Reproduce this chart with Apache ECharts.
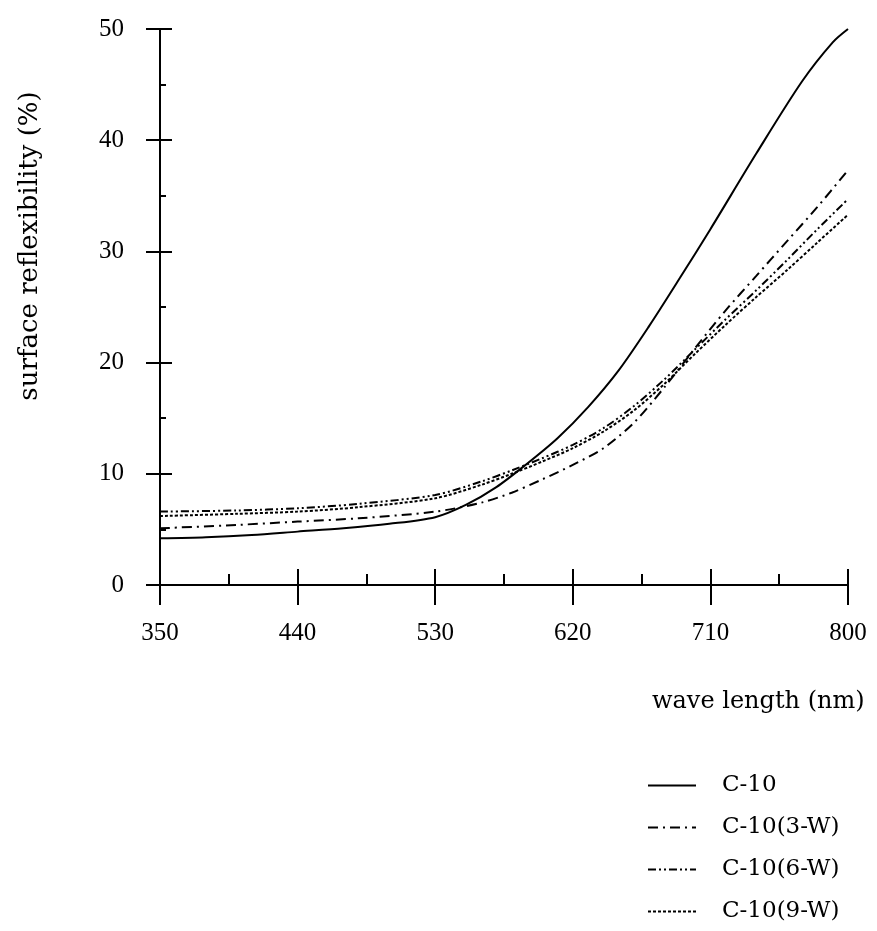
<!DOCTYPE html>
<html>
<head>
<meta charset="utf-8">
<script src="https://cdn.jsdelivr.net/npm/echarts@6/dist/echarts.min.js"></script>
<style>
  html, body { margin: 0; padding: 0; background: #fff; }
  #main { width: 877px; height: 931px; }
</style>
</head>
<body>
<div id="main"></div>
<script>
// wave length (nm) / reflexibility (%)
var waveC10 = [350, 380, 410, 440, 470, 500, 530, 550, 570, 590, 610, 630, 650, 670, 690, 710, 740, 770, 790, 800];
var reflC10 = [4.2, 4.3, 4.5, 4.8, 5.1, 5.5, 6.1, 7.2, 8.8, 10.9, 13.2, 16.0, 19.3, 23.3, 27.6, 32.0, 38.8, 45.3, 48.8, 50.0];

var waveW = [350, 400, 440, 480, 530, 560, 580, 600, 620, 640, 660, 680, 700, 720, 740, 760, 780, 800];
var refl3W = [5.1, 5.4, 5.7, 6.0, 6.6, 7.4, 8.3, 9.5, 10.8, 12.3, 14.6, 17.8, 21.3, 24.7, 27.8, 30.9, 34.0, 37.3];
var refl6W = [6.6, 6.7, 6.9, 7.3, 8.1, 9.3, 10.3, 11.4, 12.6, 14.1, 16.1, 18.5, 21.2, 23.9, 26.5, 29.2, 32.0, 34.7];
var refl9W = [6.2, 6.4, 6.6, 7.0, 7.8, 9.0, 10.0, 11.1, 12.3, 13.8, 15.7, 18.1, 20.8, 23.4, 25.9, 28.3, 30.8, 33.3];

var xTicks = [350, 440, 530, 620, 710, 800];
var seriesNames = ['C-10', 'C-10(3-W)', 'C-10(6-W)', 'C-10(9-W)'];

function pairs(xs, ys) {
    return xs.map(function (x, i) { return [x, ys[i]]; });
}

var myChart = echarts.init(document.getElementById('main'));

var serif = 'Liberation Serif';
var serif2 = 'DejaVu Serif';

function lineSeries(name, data, type) {
    return {
        name: name,
        type: 'line',
        xAxisIndex: 0,
        yAxisIndex: 0,
        data: data,
        smooth: 0.3,
        showSymbol: false,
        symbol: 'none',
        lineStyle: { color: '#000', width: 2, type: type },
        itemStyle: { color: '#000' }
    };
}

var option = {
    animation: false,
    backgroundColor: '#fff',
    grid: { left: 160, right: 29, top: 29, bottom: 346 },
    xAxis: [{
        type: 'value',
        min: 350, max: 800, interval: 90,
        axisLine: { lineStyle: { color: '#000', width: 2 } },
        axisTick: { inside: true, length: 16, lineStyle: { color: '#000', width: 2 } },
        minorTick: { show: true, splitNumber: 2, length: 11, lineStyle: { color: '#000', width: 2 } },
        splitLine: { show: false },
        axisLabel: {
            margin: 36, color: '#000', fontFamily: serif, fontSize: 25,
            formatter: function (v) { return xTicks.indexOf(v) >= 0 ? String(v) : ''; }
        }
    }, {
        type: 'value',
        position: 'bottom',
        min: 350, max: 800, interval: 90,
        axisLine: { show: false },
        axisTick: { inside: false, length: 20, lineStyle: { color: '#000', width: 2 } },
        axisLabel: { show: false },
        splitLine: { show: false }
    }],
    yAxis: [{
        type: 'value',
        min: 0, max: 50, interval: 10,
        axisLine: { show: true, lineStyle: { color: '#000', width: 2 } },
        axisTick: { show: true, inside: true, length: 12, lineStyle: { color: '#000', width: 2 } },
        minorTick: { show: true, splitNumber: 2, length: 6, lineStyle: { color: '#000', width: 2 } },
        splitLine: { show: false },
        axisLabel: { margin: 36, color: '#000', fontFamily: serif, fontSize: 25 }
    }, {
        type: 'value',
        position: 'left',
        min: 0, max: 50, interval: 10,
        axisLine: { show: false },
        axisTick: { show: true, inside: false, length: 14, lineStyle: { color: '#000', width: 2 } },
        axisLabel: { show: false },
        splitLine: { show: false }
    }],
    legend: {
        orient: 'vertical',
        left: 642,
        top: 769,
        itemWidth: 48,
        itemHeight: 10,
        itemGap: 19,
        data: seriesNames,
        itemStyle: { opacity: 0 },
        textStyle: { color: '#000', fontFamily: serif2, fontSize: 23, padding: [0, 0, 0, 21] }
    },
    graphic: [{
        type: 'text',
        left: 652,
        top: 690,
        style: { text: 'wave length (nm)', font: '24px "DejaVu Serif"', fill: '#000' }
    }, {
        type: 'text',
        x: 30,
        y: 246,
        rotation: Math.PI / 2,
        style: {
            text: 'surface reflexibility (%)', font: '26px "DejaVu Serif"', fill: '#000',
            align: 'center', verticalAlign: 'middle'
        }
    }],
    series: [
        lineSeries(seriesNames[0], pairs(waveC10, reflC10), 'solid'),
        lineSeries(seriesNames[1], pairs(waveW, refl3W), [10, 5, 2, 5]),
        lineSeries(seriesNames[2], pairs(waveW, refl6W), [8, 3, 2, 3, 2, 3]),
        lineSeries(seriesNames[3], pairs(waveW, refl9W), [3, 2])
    ]
};

myChart.setOption(option);
</script>
</body>
</html>
